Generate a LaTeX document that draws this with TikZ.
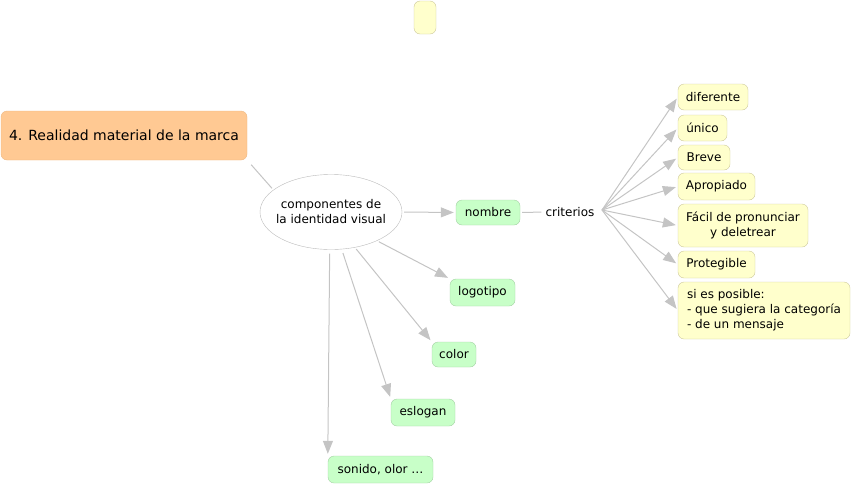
\documentclass[tikz,border=0pt]{standalone}
\usepackage{fontspec}
\setmainfont{DejaVu Sans}
\usetikzlibrary{arrows.meta,shapes.geometric}
\definecolor{orfill}{HTML}{FFC993}
\definecolor{ordraw}{HTML}{EDB883}
\definecolor{grfill}{HTML}{C8FFC8}
\definecolor{grdraw}{HTML}{A4D0A4}
\definecolor{yefill}{HTML}{FFFFCC}
\definecolor{yedraw}{HTML}{CCC89C}
\definecolor{lnk}{HTML}{C4C4C4}
\definecolor{elldraw}{HTML}{BBBBBB}
\begin{document}
\begin{tikzpicture}[x=1pt,y=-1pt,
  box/.style={rounded corners=6pt,inner sep=0pt,font=\fontsize{12}{15}\selectfont,align=center},
  gbox/.style={box,fill=grfill,draw=grdraw},
  ybox/.style={box,fill=yefill,draw=yedraw},
  link/.style={draw=lnk,line width=1pt},
  arr/.style={link,-{Triangle[length=13pt,width=10pt]},shorten >=2pt},
]
\useasboundingbox (0,0) rectangle (851,485);
% empty box
\node[ybox,minimum width=22pt,minimum height=33pt] (empty) at (425,17.5) {};
% main
\node[box,fill=orfill,draw=ordraw,minimum width=246pt,minimum height=49pt,font=\fontsize{14}{17}\selectfont] (main) at (124,135.5) {4. Realidad material de la marca};
% ellipse
\node[ellipse,draw=elldraw,fill=white,minimum width=142pt,minimum height=75pt,inner xsep=-10pt,inner ysep=0pt,align=center,font=\fontsize{12}{15}\selectfont] (ell) at (331,212) {componentes de\\la identidad visual};
% green
\node[gbox,minimum width=64pt,minimum height=25pt] (nombre) at (488,212.5) {nombre};
\node[gbox,minimum width=65pt,minimum height=27pt] (logo) at (482.5,292.5) {logotipo};
\node[gbox,minimum width=44pt,minimum height=25pt] (color) at (454,354.5) {color};
\node[gbox,minimum width=64pt,minimum height=27pt] (eslogan) at (423,412.5) {eslogan};
\node[gbox,minimum width=105pt,minimum height=27pt] (sonido) at (380.5,469.5) {sonido, olor \dots};
% criterios
\node[inner sep=0pt,font=\fontsize{12}{15}\selectfont] (crit) at (570,212) {criterios};
\coordinate (critE) at (602,210);
% yellow
\node[ybox,minimum width=70pt,minimum height=26pt] (dif) at (713,97) {diferente};
\node[ybox,minimum width=49pt,minimum height=26pt] (unico) at (702.5,128) {único};
\node[ybox,minimum width=52pt,minimum height=25pt] (breve) at (704,157.5) {Breve};
\node[ybox,minimum width=77pt,minimum height=27pt] (apro) at (716.5,186.5) {Apropiado};
\node[ybox,minimum width=130pt,minimum height=43pt] (facil) at (743,225.5) {Fácil de pronunciar\\y deletrear};
\node[ybox,minimum width=77pt,minimum height=27pt] (prot) at (716.5,264.5) {Protegible};
\node[ybox,minimum width=172pt,minimum height=57pt,align=left] (posible) at (764,310.5) {si es posible:\\- que sugiera la categoría\\- de un mensaje};
% connectors
\draw[link,shorten <=6pt,shorten >=2pt] (main.south east) -- (ell.159);
\draw[arr,shorten <=2pt] (ell.east) -- (nombre.west);
\draw[link,shorten <=2pt,shorten >=4pt] (nombre.east) -- (crit.west);
\draw[arr,shorten <=2pt] (ell.-32) -- (logo.north west);
\draw[arr,shorten <=2pt] (ell.-56) -- (color.north west);
\draw[arr,shorten <=4pt] (ell.-74) -- (eslogan.north west);
\draw[arr,shorten <=4pt] (ell.-92) -- (sonido.north west);
\foreach \t in {dif,unico,breve,apro,facil,prot,posible}
  \draw[arr] (critE) -- (\t.west);
\end{tikzpicture}
\end{document}
